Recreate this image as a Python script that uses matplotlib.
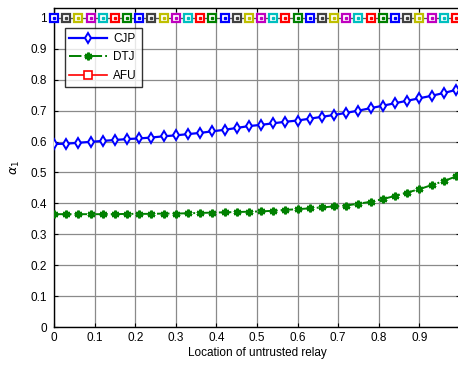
import matplotlib
matplotlib.use("Agg")
import matplotlib.pyplot as plt
from matplotlib.lines import Line2D
import numpy as np

plt.rcParams['font.family'] = ['Liberation Sans', 'DejaVu Sans']
plt.rcParams['mathtext.fontset'] = 'dejavusans'

x = [round(0.03 * i, 2) for i in range(34)]
cjp = [0.592, 0.593, 0.596, 0.599, 0.602, 0.605, 0.608, 0.610, 0.613, 0.617,
       0.620, 0.624, 0.628, 0.633, 0.638, 0.644, 0.650, 0.654, 0.659, 0.664,
       0.668, 0.674, 0.680, 0.686, 0.693, 0.700, 0.708, 0.716, 0.724, 0.732,
       0.740, 0.748, 0.757, 0.767]
dtj = [0.365, 0.365, 0.365, 0.365, 0.365, 0.365, 0.366, 0.366, 0.366, 0.367,
       0.367, 0.368, 0.369, 0.370, 0.371, 0.372, 0.373, 0.374, 0.376, 0.379,
       0.381, 0.384, 0.387, 0.390, 0.393, 0.399, 0.405, 0.414, 0.424, 0.435,
       0.446, 0.459, 0.472, 0.487]
afu = [1.0] * 34
afu_colors = ['#0000ff', '#404040', '#bfbf00', '#bf00bf', '#00bfbf', '#ff0000', '#008000']

xticks = [0, 0.1, 0.2, 0.3, 0.4, 0.5, 0.6, 0.7, 0.8, 0.9]
xticklabels = ['0', '0.1', '0.2', '0.3', '0.4', '0.5', '0.6', '0.7', '0.8', '0.9']
yticks = [0, 0.1, 0.2, 0.3, 0.4, 0.5, 0.6, 0.7, 0.8, 0.9, 1.0]
yticklabels = ['0', '0.1', '0.2', '0.3', '0.4', '0.5', '0.6', '0.7', '0.8', '0.9', '1']

fig = plt.figure(figsize=(4.58, 3.65), dpi=100)
ax = fig.add_axes([54/458, 38/365, 406/458, 319/365])

ax.set_xlim(0, 1)
ax.set_ylim(0, 1.032)
ax.grid(True, color='#8a8a8a', linewidth=0.9, linestyle='-')
ax.set_axisbelow(True)

ax.plot(x, cjp, color='#0000ff', linewidth=1.6, marker='d', markersize=5.5,
        markerfacecolor='white', markeredgecolor='#0000ff', markeredgewidth=1.4, zorder=3)
ax.plot(x, dtj, color='#008000', linewidth=1.4, linestyle='-.', marker=(6, 2, 0),
        markersize=5.5, markeredgewidth=1.8, markeredgecolor='#008000', zorder=3)
ax.plot(x, afu, color='#555555', linewidth=0.8, zorder=3)
for i, (xi, yi) in enumerate(zip(x, afu)):
    c = afu_colors[i % len(afu_colors)]
    ax.plot([xi], [yi], marker='s', markersize=5.8, markerfacecolor='white',
            markeredgecolor=c, markeredgewidth=1.6, linestyle='none', zorder=4, clip_on=False)
    ax.plot([xi], [yi], marker='s', markersize=2.0, markerfacecolor=c,
            markeredgecolor=c, linestyle='none', zorder=5, clip_on=False)

handles = [
    Line2D([], [], color='#0000ff', linewidth=1.6, marker='d', markersize=5.5,
           markerfacecolor='white', markeredgewidth=1.4),
    Line2D([], [], color='#008000', linewidth=1.4, linestyle='-.', marker=(6, 2, 0),
           markersize=5.5, markeredgewidth=1.8),
    Line2D([], [], color='#ff0000', linewidth=1.2, marker='s', markersize=6,
           markerfacecolor='white', markeredgewidth=1.2),
]
leg = ax.legend(handles, ['CJP', 'DTJ', 'AFU'], loc='upper left',
                bbox_to_anchor=(0.012, 0.955), fontsize=8.5, frameon=True,
                fancybox=False, edgecolor='black', handlelength=3.2,
                borderpad=0.4, labelspacing=0.55, handletextpad=0.5)
leg.get_frame().set_linewidth(1.0)

ax.set_xticks(xticks)
ax.set_xticklabels(xticklabels)
ax.set_yticks(yticks)
ax.set_yticklabels(yticklabels)
ax.tick_params(direction='in', length=3, labelsize=8.5, width=0.8, top=True, right=True)
ax.tick_params(axis='y', pad=5)
for s in ax.spines.values():
    s.set_linewidth(1.0)

ax.set_xlabel('Location of untrusted relay', fontsize=8.5, labelpad=2)
ax.set_ylabel(r'$\alpha_1$', fontsize=9, labelpad=6)

fig.savefig('out.png', dpi=100)
